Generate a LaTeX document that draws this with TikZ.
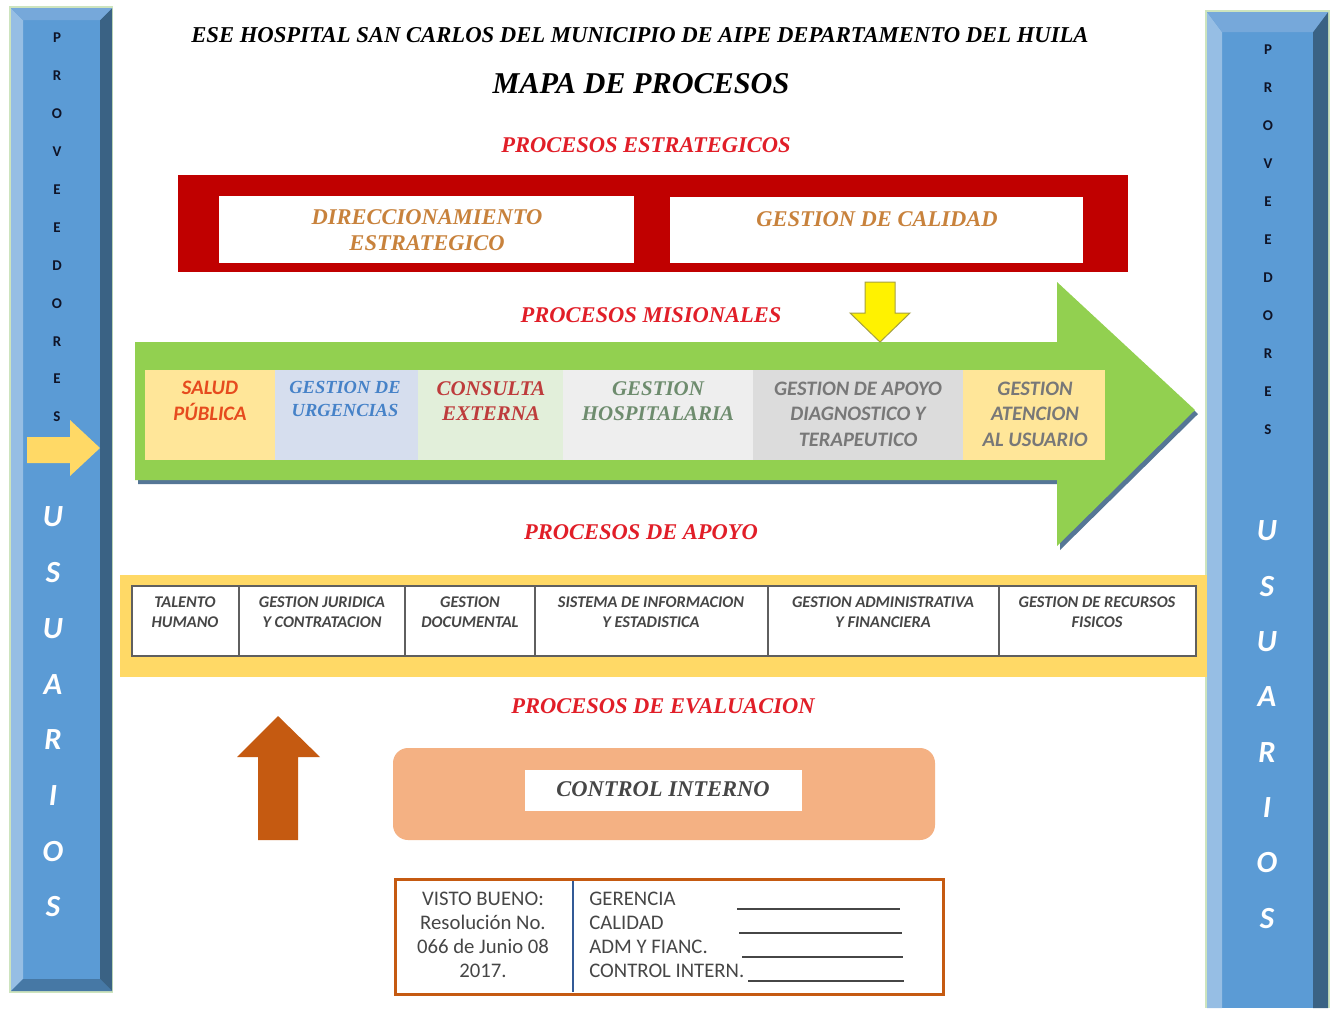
\documentclass[tikz,border=0pt]{standalone}
\usepackage{fontspec}
\setmainfont{Liberation Serif}
\newfontfamily\calibri{Carlito}

\definecolor{barazul}{RGB}{91,155,213}
\definecolor{barclaro}{RGB}{150,190,228}
\definecolor{baroscuro}{RGB}{58,98,132}
\definecolor{bartope}{RGB}{118,168,218}
\definecolor{barbajo}{RGB}{70,120,165}
\definecolor{barborde}{RGB}{205,228,190}
\definecolor{azulnoche}{RGB}{15,20,40}
\definecolor{rojoproc}{RGB}{225,30,40}
\definecolor{rojocaja}{RGB}{192,0,0}
\definecolor{ocre}{RGB}{200,130,60}
\definecolor{verde}{RGB}{146,208,80}
\definecolor{sombra}{RGB}{85,118,150}
\definecolor{amarillo}{RGB}{255,217,102}
\definecolor{crema}{RGB}{255,230,153}
\definecolor{celeste}{RGB}{214,222,238}
\definecolor{menta}{RGB}{226,239,218}
\definecolor{perla}{RGB}{238,238,238}
\definecolor{gris}{RGB}{220,220,220}
\definecolor{naranja}{RGB}{197,90,17}
\definecolor{salmon}{RGB}{244,177,131}
\definecolor{gristexto}{RGB}{70,70,70}
\definecolor{grisborde}{RGB}{95,95,95}
\definecolor{divisor}{RGB}{50,90,150}

\begin{document}
\begin{tikzpicture}[x=0.2mm, y=-0.2mm,
  titulo/.style={font=\bfseries\itshape\fontsize{12.9}{15}\selectfont},
  mapa/.style={font=\bfseries\itshape\fontsize{17.2}{20}\selectfont},
  grupo/.style={font=\bfseries\itshape\fontsize{12.8}{15}\selectfont, text=rojoproc},
  estr/.style={font=\bfseries\itshape\fontsize{12.8}{14.8}\selectfont, text=ocre, align=center},
  misS/.style={font=\bfseries\itshape\fontsize{11.9}{14.3}\selectfont, align=center, inner sep=0pt},
  misC/.style={font=\calibri\bfseries\itshape\fontsize{11.7}{14.5}\selectfont, align=center, inner sep=0pt},
  apoyo/.style={font=\calibri\bfseries\itshape\fontsize{9.3}{11.4}\selectfont, text=gristexto, align=center},
  caja/.style={draw=grisborde, line width=0.4mm, fill=white},
  prov/.style={font=\calibri\bfseries\fontsize{8.5}{9}\selectfont, text=azulnoche},
  usu/.style={font=\calibri\bfseries\itshape\fontsize{17.5}{20}\selectfont, text=white},
  firma/.style={font=\calibri\fontsize{11.8}{13.66}\selectfont, text=gristexto},
]
\useasboundingbox[fill=white] (0,0) rectangle (1335,1008);

%% ── BARRA IZQUIERDA ─────────────────────────────────────────────────────────
\fill[barborde] (9,6) rectangle (113,993);
\fill[barazul] (11,8) rectangle (112,991);
\fill[barclaro] (11,8) -- (23,20) -- (23,979) -- (11,991) -- cycle;
\fill[baroscuro] (112,8) -- (100,20) -- (100,979) -- (112,991) -- cycle;
\fill[bartope] (11,8) -- (112,8) -- (100,20) -- (23,20) -- cycle;
\fill[barbajo] (11,991) -- (112,991) -- (100,979) -- (23,979) -- cycle;
\foreach \l [count=\i from 0] in {P,R,O,V,E,E,D,O,R,E,S}
  \node[prov] (provI\i) at (57,38+37.9*\i) {\l};
\foreach \l [count=\i from 0] in {U,S,U,A,R,I,O,S}
  \node[usu] (usuI\i) at (53,517+55.7*\i) {\l};
% flecha de entrada
\fill[amarillo] (27,437) -- (70,437) -- (70,420) -- (100,448) -- (70,476) -- (70,463) -- (27,463) -- cycle;

%% ── BARRA DERECHA ───────────────────────────────────────────────────────────
\fill[barborde] (1205,10) rectangle (1330,1008);
\fill[barazul] (1207,12) rectangle (1328,1008);
\fill[barclaro] (1207,12) -- (1222,32) -- (1222,1008) -- (1207,1008) -- cycle;
\fill[baroscuro] (1328,12) -- (1313,32) -- (1313,1008) -- (1328,1008) -- cycle;
\fill[bartope] (1207,12) -- (1328,12) -- (1313,32) -- (1222,32) -- cycle;
\foreach \l [count=\i from 0] in {P,R,O,V,E,E,D,O,R,E,S}
  \node[prov] (provD\i) at (1268,50+38*\i) {\l};
\foreach \l [count=\i from 0] in {U,S,U,A,R,I,O,S}
  \node[usu] (usuD\i) at (1267,531+55.3*\i) {\l};

%% ── TITULOS ─────────────────────────────────────────────────────────────────
\node[titulo] (ese) at (640,35) {ESE HOSPITAL SAN CARLOS DEL MUNICIPIO DE AIPE DEPARTAMENTO DEL HUILA};
\node[mapa] (mapa) at (641,84) {MAPA DE PROCESOS};

%% ── PROCESOS ESTRATEGICOS ───────────────────────────────────────────────────
\node[grupo] (estrat) at (646,145) {PROCESOS ESTRATEGICOS};
\fill[rojocaja] (178,175) rectangle (1128,272);
\fill[white] (219,196) rectangle (634,263);
\fill[white] (670,197) rectangle (1083,263);
\node[estr] (direc) at (427,230) {DIRECCIONAMIENTO\\ESTRATEGICO};
\node[estr] (calidad) at (877,219) {GESTION DE CALIDAD};

%% ── PROCESOS MISIONALES ─────────────────────────────────────────────────────
\node[grupo] (mision) at (651,315) {PROCESOS MISIONALES};
\fill[sombra] (138,346) -- (1060,346) -- (1060,286) -- (1198,414) -- (1060,550) -- (1060,484) -- (138,484) -- cycle;
\fill[verde] (135,342) -- (1057,342) -- (1057,282) -- (1195,410) -- (1057,546) -- (1057,480) -- (135,480) -- cycle;
\fill[crema]   (145,370) rectangle (275,460);
\fill[celeste] (275,370) rectangle (418,460);
\fill[menta]   (418,370) rectangle (563,460);
\fill[perla]   (563,370) rectangle (753,460);
\fill[gris]    (753,370) rectangle (963,460);
\fill[crema]   (963,370) rectangle (1105,460);
\node[misC, text={rgb,255:red,230;green,75;blue,30}] (salud) at (210,401) {SALUD\\PÚBLICA};
\node[misS, font=\bfseries\itshape\fontsize{10.5}{12.6}\selectfont, text={rgb,255:red,70;green,130;blue,200}] (urgen) at (345,399) {GESTION DE\\URGENCIAS};
\node[misS, text={rgb,255:red,190;green,60;blue,60}] (consul) at (491,401) {CONSULTA\\EXTERNA};
\node[misS, text={rgb,255:red,110;green,140;blue,110}] (hosp) at (658,401) {GESTION\\HOSPITALARIA};
\node[misC, text={rgb,255:red,120;green,120;blue,120}] (diag) at (858,414) {GESTION DE APOYO\\DIAGNOSTICO Y\\TERAPEUTICO};
\node[misC, text={rgb,255:red,120;green,120;blue,120}] (atenc) at (1035,414) {GESTION\\ATENCION\\AL USUARIO};
% flecha amarilla
\filldraw[fill=yellow, draw=yellow!60!black, line width=0.2mm] (865,282) -- (895,282) -- (895,313) -- (910,313) -- (880,342) -- (850,313) -- (865,313) -- cycle;

%% ── PROCESOS DE APOYO ───────────────────────────────────────────────────────
\node[grupo] (apoyos) at (641,532) {PROCESOS DE APOYO};
\fill[amarillo] (120,575) rectangle (1207,677);
\draw[caja] (132,586) rectangle (1196,656);
\foreach \x in {239,405,535,768,999}
  \draw[grisborde, line width=0.4mm] (\x,586) -- (\x,656);
\node[apoyo] (talento) at (185,612) {TALENTO\\HUMANO};
\node[apoyo] (juridica) at (322,612) {GESTION JURIDICA\\Y CONTRATACION};
\node[apoyo] (docum) at (470,612) {GESTION\\DOCUMENTAL};
\node[apoyo] (sistema) at (651,612) {SISTEMA DE INFORMACION\\Y ESTADISTICA};
\node[apoyo] (admin) at (883,612) {GESTION ADMINISTRATIVA\\Y FINANCIERA};
\node[apoyo] (recursos) at (1097,612) {GESTION DE RECURSOS\\FISICOS};

%% ── PROCESOS DE EVALUACION ──────────────────────────────────────────────────
\node[grupo] (evalua) at (663,706) {PROCESOS DE EVALUACION};
\fill[naranja] (278,716) -- (320,757) -- (298,757) -- (298,840) -- (258,840) -- (258,757) -- (237,757) -- cycle;
\fill[salmon, rounded corners=3mm] (393,748) rectangle (935,840);
\fill[white] (525,770) rectangle (802,811);
\node[font=\bfseries\itshape\fontsize{12.8}{15}\selectfont, text=gristexto] (control) at (663,789) {CONTROL INTERNO};

%% ── VISTO BUENO ─────────────────────────────────────────────────────────────
\draw[naranja, line width=0.6mm, fill=white] (395,879) rectangle (943,994);
\draw[divisor, line width=0.4mm] (573,881) -- (573,992);
\node[firma, align=center] (visto) at (483,935) {VISTO BUENO:\\Resolución No.\\066 de Junio 08\\2017.};
\node[firma, align=left, anchor=west, inner sep=0pt] (cargos) at (589,935) {GERENCIA\\CALIDAD\\ADM Y FIANC.\\CONTROL INTERN.};
\draw[gristexto, line width=0.25mm] (737,909) -- (900,909);
\draw[gristexto, line width=0.25mm] (739,933) -- (902,933);
\draw[gristexto, line width=0.25mm] (742,957) -- (903,957);
\draw[gristexto, line width=0.25mm] (748,981) -- (904,981);
\end{tikzpicture}
\end{document}
